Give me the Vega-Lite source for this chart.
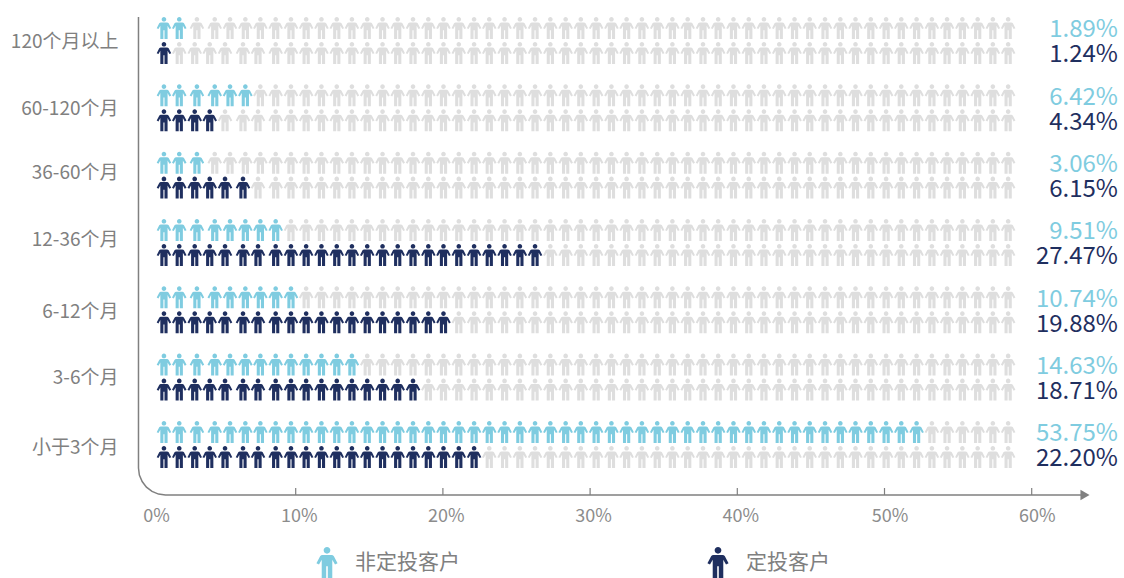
{"$schema":"https://vega.github.io/schema/vega-lite/v6.json","autosize":{"type":"none"},"padding":{"left":138,"top":0,"right":0,"bottom":83},"width":986,"height":495,"background":"white","config":{"view":{"stroke":null},"font":"Noto Sans CJK SC"},
"datasets":{"icons":[
{"c":"120个月以上","s":"非定投客户","p":1.05,"f":1},{"c":"120个月以上","s":"非定投客户","p":2.09,"f":1},{"c":"120个月以上","s":"非定投客户","p":3.29,"f":0},{"c":"120个月以上","s":"非定投客户","p":4.5,"f":0},{"c":"120个月以上","s":"非定投客户","p":5.54,"f":0},{"c":"120个月以上","s":"非定投客户","p":6.58,"f":0},{"c":"120个月以上","s":"非定投客户","p":7.6,"f":0},{"c":"120个月以上","s":"非定投客户","p":8.64,"f":0},{"c":"120个月以上","s":"非定投客户","p":9.68,"f":0},{"c":"120个月以上","s":"非定投客户","p":10.71,"f":0},{"c":"120个月以上","s":"非定投客户","p":11.75,"f":0},{"c":"120个月以上","s":"非定投客户","p":12.79,"f":0},{"c":"120个月以上","s":"非定投客户","p":13.82,"f":0},{"c":"120个月以上","s":"非定投客户","p":14.86,"f":0},{"c":"120个月以上","s":"非定投客户","p":15.9,"f":0},{"c":"120个月以上","s":"非定投客户","p":16.93,"f":0},{"c":"120个月以上","s":"非定投客户","p":17.97,"f":0},{"c":"120个月以上","s":"非定投客户","p":19.01,"f":0},{"c":"120个月以上","s":"非定投客户","p":20.04,"f":0},{"c":"120个月以上","s":"非定投客户","p":21.08,"f":0},{"c":"120个月以上","s":"非定投客户","p":22.12,"f":0},{"c":"120个月以上","s":"非定投客户","p":23.15,"f":0},{"c":"120个月以上","s":"非定投客户","p":24.19,"f":0},{"c":"120个月以上","s":"非定投客户","p":25.23,"f":0},{"c":"120个月以上","s":"非定投客户","p":26.26,"f":0},{"c":"120个月以上","s":"非定投客户","p":27.3,"f":0},{"c":"120个月以上","s":"非定投客户","p":28.34,"f":0},{"c":"120个月以上","s":"非定投客户","p":29.37,"f":0},{"c":"120个月以上","s":"非定投客户","p":30.41,"f":0},{"c":"120个月以上","s":"非定投客户","p":31.45,"f":0},{"c":"120个月以上","s":"非定投客户","p":32.48,"f":0},{"c":"120个月以上","s":"非定投客户","p":33.52,"f":0},{"c":"120个月以上","s":"非定投客户","p":34.56,"f":0},{"c":"120个月以上","s":"非定投客户","p":35.59,"f":0},{"c":"120个月以上","s":"非定投客户","p":36.63,"f":0},{"c":"120个月以上","s":"非定投客户","p":37.67,"f":0},{"c":"120个月以上","s":"非定投客户","p":38.7,"f":0},{"c":"120个月以上","s":"非定投客户","p":39.74,"f":0},{"c":"120个月以上","s":"非定投客户","p":40.78,"f":0},{"c":"120个月以上","s":"非定投客户","p":41.81,"f":0},{"c":"120个月以上","s":"非定投客户","p":42.85,"f":0},{"c":"120个月以上","s":"非定投客户","p":43.89,"f":0},{"c":"120个月以上","s":"非定投客户","p":44.92,"f":0},{"c":"120个月以上","s":"非定投客户","p":45.96,"f":0},{"c":"120个月以上","s":"非定投客户","p":47,"f":0},{"c":"120个月以上","s":"非定投客户","p":48.03,"f":0},{"c":"120个月以上","s":"非定投客户","p":49.07,"f":0},{"c":"120个月以上","s":"非定投客户","p":50.11,"f":0},{"c":"120个月以上","s":"非定投客户","p":51.14,"f":0},{"c":"120个月以上","s":"非定投客户","p":52.18,"f":0},{"c":"120个月以上","s":"非定投客户","p":53.22,"f":0},{"c":"120个月以上","s":"非定投客户","p":54.25,"f":0},{"c":"120个月以上","s":"非定投客户","p":55.29,"f":0},{"c":"120个月以上","s":"非定投客户","p":56.33,"f":0},{"c":"120个月以上","s":"非定投客户","p":57.36,"f":0},{"c":"120个月以上","s":"非定投客户","p":58.4,"f":0},
{"c":"120个月以上","s":"定投客户","p":1.05,"f":1},{"c":"120个月以上","s":"定投客户","p":2.09,"f":0},{"c":"120个月以上","s":"定投客户","p":3.14,"f":0},{"c":"120个月以上","s":"定投客户","p":4.16,"f":0},{"c":"120个月以上","s":"定投客户","p":5.2,"f":0},{"c":"120个月以上","s":"定投客户","p":6.42,"f":0},{"c":"120个月以上","s":"定投客户","p":7.44,"f":0},{"c":"120个月以上","s":"定投客户","p":8.64,"f":0},{"c":"120个月以上","s":"定投客户","p":9.68,"f":0},{"c":"120个月以上","s":"定投客户","p":10.71,"f":0},{"c":"120个月以上","s":"定投客户","p":11.75,"f":0},{"c":"120个月以上","s":"定投客户","p":12.79,"f":0},{"c":"120个月以上","s":"定投客户","p":13.82,"f":0},{"c":"120个月以上","s":"定投客户","p":14.86,"f":0},{"c":"120个月以上","s":"定投客户","p":15.9,"f":0},{"c":"120个月以上","s":"定投客户","p":16.93,"f":0},{"c":"120个月以上","s":"定投客户","p":17.97,"f":0},{"c":"120个月以上","s":"定投客户","p":19.01,"f":0},{"c":"120个月以上","s":"定投客户","p":20.04,"f":0},{"c":"120个月以上","s":"定投客户","p":21.08,"f":0},{"c":"120个月以上","s":"定投客户","p":22.12,"f":0},{"c":"120个月以上","s":"定投客户","p":23.15,"f":0},{"c":"120个月以上","s":"定投客户","p":24.19,"f":0},{"c":"120个月以上","s":"定投客户","p":25.23,"f":0},{"c":"120个月以上","s":"定投客户","p":26.26,"f":0},{"c":"120个月以上","s":"定投客户","p":27.3,"f":0},{"c":"120个月以上","s":"定投客户","p":28.34,"f":0},{"c":"120个月以上","s":"定投客户","p":29.37,"f":0},{"c":"120个月以上","s":"定投客户","p":30.41,"f":0},{"c":"120个月以上","s":"定投客户","p":31.45,"f":0},{"c":"120个月以上","s":"定投客户","p":32.48,"f":0},{"c":"120个月以上","s":"定投客户","p":33.52,"f":0},{"c":"120个月以上","s":"定投客户","p":34.56,"f":0},{"c":"120个月以上","s":"定投客户","p":35.59,"f":0},{"c":"120个月以上","s":"定投客户","p":36.63,"f":0},{"c":"120个月以上","s":"定投客户","p":37.67,"f":0},{"c":"120个月以上","s":"定投客户","p":38.7,"f":0},{"c":"120个月以上","s":"定投客户","p":39.74,"f":0},{"c":"120个月以上","s":"定投客户","p":40.78,"f":0},{"c":"120个月以上","s":"定投客户","p":41.81,"f":0},{"c":"120个月以上","s":"定投客户","p":42.85,"f":0},{"c":"120个月以上","s":"定投客户","p":43.89,"f":0},{"c":"120个月以上","s":"定投客户","p":44.92,"f":0},{"c":"120个月以上","s":"定投客户","p":45.96,"f":0},{"c":"120个月以上","s":"定投客户","p":47,"f":0},{"c":"120个月以上","s":"定投客户","p":48.03,"f":0},{"c":"120个月以上","s":"定投客户","p":49.07,"f":0},{"c":"120个月以上","s":"定投客户","p":50.11,"f":0},{"c":"120个月以上","s":"定投客户","p":51.14,"f":0},{"c":"120个月以上","s":"定投客户","p":52.18,"f":0},{"c":"120个月以上","s":"定投客户","p":53.22,"f":0},{"c":"120个月以上","s":"定投客户","p":54.25,"f":0},{"c":"120个月以上","s":"定投客户","p":55.29,"f":0},{"c":"120个月以上","s":"定投客户","p":56.33,"f":0},{"c":"120个月以上","s":"定投客户","p":57.36,"f":0},{"c":"120个月以上","s":"定投客户","p":58.4,"f":0},
{"c":"60-120个月","s":"非定投客户","p":1.05,"f":1},{"c":"60-120个月","s":"非定投客户","p":2.09,"f":1},{"c":"60-120个月","s":"非定投客户","p":3.29,"f":1},{"c":"60-120个月","s":"非定投客户","p":4.5,"f":1},{"c":"60-120个月","s":"非定投客户","p":5.54,"f":1},{"c":"60-120个月","s":"非定投客户","p":6.58,"f":1},{"c":"60-120个月","s":"非定投客户","p":7.6,"f":0},{"c":"60-120个月","s":"非定投客户","p":8.64,"f":0},{"c":"60-120个月","s":"非定投客户","p":9.68,"f":0},{"c":"60-120个月","s":"非定投客户","p":10.71,"f":0},{"c":"60-120个月","s":"非定投客户","p":11.75,"f":0},{"c":"60-120个月","s":"非定投客户","p":12.79,"f":0},{"c":"60-120个月","s":"非定投客户","p":13.82,"f":0},{"c":"60-120个月","s":"非定投客户","p":14.86,"f":0},{"c":"60-120个月","s":"非定投客户","p":15.9,"f":0},{"c":"60-120个月","s":"非定投客户","p":16.93,"f":0},{"c":"60-120个月","s":"非定投客户","p":17.97,"f":0},{"c":"60-120个月","s":"非定投客户","p":19.01,"f":0},{"c":"60-120个月","s":"非定投客户","p":20.04,"f":0},{"c":"60-120个月","s":"非定投客户","p":21.08,"f":0},{"c":"60-120个月","s":"非定投客户","p":22.12,"f":0},{"c":"60-120个月","s":"非定投客户","p":23.15,"f":0},{"c":"60-120个月","s":"非定投客户","p":24.19,"f":0},{"c":"60-120个月","s":"非定投客户","p":25.23,"f":0},{"c":"60-120个月","s":"非定投客户","p":26.26,"f":0},{"c":"60-120个月","s":"非定投客户","p":27.3,"f":0},{"c":"60-120个月","s":"非定投客户","p":28.34,"f":0},{"c":"60-120个月","s":"非定投客户","p":29.37,"f":0},{"c":"60-120个月","s":"非定投客户","p":30.41,"f":0},{"c":"60-120个月","s":"非定投客户","p":31.45,"f":0},{"c":"60-120个月","s":"非定投客户","p":32.48,"f":0},{"c":"60-120个月","s":"非定投客户","p":33.52,"f":0},{"c":"60-120个月","s":"非定投客户","p":34.56,"f":0},{"c":"60-120个月","s":"非定投客户","p":35.59,"f":0},{"c":"60-120个月","s":"非定投客户","p":36.63,"f":0},{"c":"60-120个月","s":"非定投客户","p":37.67,"f":0},{"c":"60-120个月","s":"非定投客户","p":38.7,"f":0},{"c":"60-120个月","s":"非定投客户","p":39.74,"f":0},{"c":"60-120个月","s":"非定投客户","p":40.78,"f":0},{"c":"60-120个月","s":"非定投客户","p":41.81,"f":0},{"c":"60-120个月","s":"非定投客户","p":42.85,"f":0},{"c":"60-120个月","s":"非定投客户","p":43.89,"f":0},{"c":"60-120个月","s":"非定投客户","p":44.92,"f":0},{"c":"60-120个月","s":"非定投客户","p":45.96,"f":0},{"c":"60-120个月","s":"非定投客户","p":47,"f":0},{"c":"60-120个月","s":"非定投客户","p":48.03,"f":0},{"c":"60-120个月","s":"非定投客户","p":49.07,"f":0},{"c":"60-120个月","s":"非定投客户","p":50.11,"f":0},{"c":"60-120个月","s":"非定投客户","p":51.14,"f":0},{"c":"60-120个月","s":"非定投客户","p":52.18,"f":0},{"c":"60-120个月","s":"非定投客户","p":53.22,"f":0},{"c":"60-120个月","s":"非定投客户","p":54.25,"f":0},{"c":"60-120个月","s":"非定投客户","p":55.29,"f":0},{"c":"60-120个月","s":"非定投客户","p":56.33,"f":0},{"c":"60-120个月","s":"非定投客户","p":57.36,"f":0},{"c":"60-120个月","s":"非定投客户","p":58.4,"f":0},
{"c":"60-120个月","s":"定投客户","p":1.05,"f":1},{"c":"60-120个月","s":"定投客户","p":2.09,"f":1},{"c":"60-120个月","s":"定投客户","p":3.14,"f":1},{"c":"60-120个月","s":"定投客户","p":4.16,"f":1},{"c":"60-120个月","s":"定投客户","p":5.2,"f":0},{"c":"60-120个月","s":"定投客户","p":6.42,"f":0},{"c":"60-120个月","s":"定投客户","p":7.44,"f":0},{"c":"60-120个月","s":"定投客户","p":8.64,"f":0},{"c":"60-120个月","s":"定投客户","p":9.68,"f":0},{"c":"60-120个月","s":"定投客户","p":10.71,"f":0},{"c":"60-120个月","s":"定投客户","p":11.75,"f":0},{"c":"60-120个月","s":"定投客户","p":12.79,"f":0},{"c":"60-120个月","s":"定投客户","p":13.82,"f":0},{"c":"60-120个月","s":"定投客户","p":14.86,"f":0},{"c":"60-120个月","s":"定投客户","p":15.9,"f":0},{"c":"60-120个月","s":"定投客户","p":16.93,"f":0},{"c":"60-120个月","s":"定投客户","p":17.97,"f":0},{"c":"60-120个月","s":"定投客户","p":19.01,"f":0},{"c":"60-120个月","s":"定投客户","p":20.04,"f":0},{"c":"60-120个月","s":"定投客户","p":21.08,"f":0},{"c":"60-120个月","s":"定投客户","p":22.12,"f":0},{"c":"60-120个月","s":"定投客户","p":23.15,"f":0},{"c":"60-120个月","s":"定投客户","p":24.19,"f":0},{"c":"60-120个月","s":"定投客户","p":25.23,"f":0},{"c":"60-120个月","s":"定投客户","p":26.26,"f":0},{"c":"60-120个月","s":"定投客户","p":27.3,"f":0},{"c":"60-120个月","s":"定投客户","p":28.34,"f":0},{"c":"60-120个月","s":"定投客户","p":29.37,"f":0},{"c":"60-120个月","s":"定投客户","p":30.41,"f":0},{"c":"60-120个月","s":"定投客户","p":31.45,"f":0},{"c":"60-120个月","s":"定投客户","p":32.48,"f":0},{"c":"60-120个月","s":"定投客户","p":33.52,"f":0},{"c":"60-120个月","s":"定投客户","p":34.56,"f":0},{"c":"60-120个月","s":"定投客户","p":35.59,"f":0},{"c":"60-120个月","s":"定投客户","p":36.63,"f":0},{"c":"60-120个月","s":"定投客户","p":37.67,"f":0},{"c":"60-120个月","s":"定投客户","p":38.7,"f":0},{"c":"60-120个月","s":"定投客户","p":39.74,"f":0},{"c":"60-120个月","s":"定投客户","p":40.78,"f":0},{"c":"60-120个月","s":"定投客户","p":41.81,"f":0},{"c":"60-120个月","s":"定投客户","p":42.85,"f":0},{"c":"60-120个月","s":"定投客户","p":43.89,"f":0},{"c":"60-120个月","s":"定投客户","p":44.92,"f":0},{"c":"60-120个月","s":"定投客户","p":45.96,"f":0},{"c":"60-120个月","s":"定投客户","p":47,"f":0},{"c":"60-120个月","s":"定投客户","p":48.03,"f":0},{"c":"60-120个月","s":"定投客户","p":49.07,"f":0},{"c":"60-120个月","s":"定投客户","p":50.11,"f":0},{"c":"60-120个月","s":"定投客户","p":51.14,"f":0},{"c":"60-120个月","s":"定投客户","p":52.18,"f":0},{"c":"60-120个月","s":"定投客户","p":53.22,"f":0},{"c":"60-120个月","s":"定投客户","p":54.25,"f":0},{"c":"60-120个月","s":"定投客户","p":55.29,"f":0},{"c":"60-120个月","s":"定投客户","p":56.33,"f":0},{"c":"60-120个月","s":"定投客户","p":57.36,"f":0},{"c":"60-120个月","s":"定投客户","p":58.4,"f":0},
{"c":"36-60个月","s":"非定投客户","p":1.05,"f":1},{"c":"36-60个月","s":"非定投客户","p":2.09,"f":1},{"c":"36-60个月","s":"非定投客户","p":3.29,"f":1},{"c":"36-60个月","s":"非定投客户","p":4.5,"f":0},{"c":"36-60个月","s":"非定投客户","p":5.54,"f":0},{"c":"36-60个月","s":"非定投客户","p":6.58,"f":0},{"c":"36-60个月","s":"非定投客户","p":7.6,"f":0},{"c":"36-60个月","s":"非定投客户","p":8.64,"f":0},{"c":"36-60个月","s":"非定投客户","p":9.68,"f":0},{"c":"36-60个月","s":"非定投客户","p":10.71,"f":0},{"c":"36-60个月","s":"非定投客户","p":11.75,"f":0},{"c":"36-60个月","s":"非定投客户","p":12.79,"f":0},{"c":"36-60个月","s":"非定投客户","p":13.82,"f":0},{"c":"36-60个月","s":"非定投客户","p":14.86,"f":0},{"c":"36-60个月","s":"非定投客户","p":15.9,"f":0},{"c":"36-60个月","s":"非定投客户","p":16.93,"f":0},{"c":"36-60个月","s":"非定投客户","p":17.97,"f":0},{"c":"36-60个月","s":"非定投客户","p":19.01,"f":0},{"c":"36-60个月","s":"非定投客户","p":20.04,"f":0},{"c":"36-60个月","s":"非定投客户","p":21.08,"f":0},{"c":"36-60个月","s":"非定投客户","p":22.12,"f":0},{"c":"36-60个月","s":"非定投客户","p":23.15,"f":0},{"c":"36-60个月","s":"非定投客户","p":24.19,"f":0},{"c":"36-60个月","s":"非定投客户","p":25.23,"f":0},{"c":"36-60个月","s":"非定投客户","p":26.26,"f":0},{"c":"36-60个月","s":"非定投客户","p":27.3,"f":0},{"c":"36-60个月","s":"非定投客户","p":28.34,"f":0},{"c":"36-60个月","s":"非定投客户","p":29.37,"f":0},{"c":"36-60个月","s":"非定投客户","p":30.41,"f":0},{"c":"36-60个月","s":"非定投客户","p":31.45,"f":0},{"c":"36-60个月","s":"非定投客户","p":32.48,"f":0},{"c":"36-60个月","s":"非定投客户","p":33.52,"f":0},{"c":"36-60个月","s":"非定投客户","p":34.56,"f":0},{"c":"36-60个月","s":"非定投客户","p":35.59,"f":0},{"c":"36-60个月","s":"非定投客户","p":36.63,"f":0},{"c":"36-60个月","s":"非定投客户","p":37.67,"f":0},{"c":"36-60个月","s":"非定投客户","p":38.7,"f":0},{"c":"36-60个月","s":"非定投客户","p":39.74,"f":0},{"c":"36-60个月","s":"非定投客户","p":40.78,"f":0},{"c":"36-60个月","s":"非定投客户","p":41.81,"f":0},{"c":"36-60个月","s":"非定投客户","p":42.85,"f":0},{"c":"36-60个月","s":"非定投客户","p":43.89,"f":0},{"c":"36-60个月","s":"非定投客户","p":44.92,"f":0},{"c":"36-60个月","s":"非定投客户","p":45.96,"f":0},{"c":"36-60个月","s":"非定投客户","p":47,"f":0},{"c":"36-60个月","s":"非定投客户","p":48.03,"f":0},{"c":"36-60个月","s":"非定投客户","p":49.07,"f":0},{"c":"36-60个月","s":"非定投客户","p":50.11,"f":0},{"c":"36-60个月","s":"非定投客户","p":51.14,"f":0},{"c":"36-60个月","s":"非定投客户","p":52.18,"f":0},{"c":"36-60个月","s":"非定投客户","p":53.22,"f":0},{"c":"36-60个月","s":"非定投客户","p":54.25,"f":0},{"c":"36-60个月","s":"非定投客户","p":55.29,"f":0},{"c":"36-60个月","s":"非定投客户","p":56.33,"f":0},{"c":"36-60个月","s":"非定投客户","p":57.36,"f":0},{"c":"36-60个月","s":"非定投客户","p":58.4,"f":0},
{"c":"36-60个月","s":"定投客户","p":1.05,"f":1},{"c":"36-60个月","s":"定投客户","p":2.09,"f":1},{"c":"36-60个月","s":"定投客户","p":3.14,"f":1},{"c":"36-60个月","s":"定投客户","p":4.16,"f":1},{"c":"36-60个月","s":"定投客户","p":5.2,"f":1},{"c":"36-60个月","s":"定投客户","p":6.42,"f":1},{"c":"36-60个月","s":"定投客户","p":7.44,"f":0},{"c":"36-60个月","s":"定投客户","p":8.64,"f":0},{"c":"36-60个月","s":"定投客户","p":9.68,"f":0},{"c":"36-60个月","s":"定投客户","p":10.71,"f":0},{"c":"36-60个月","s":"定投客户","p":11.75,"f":0},{"c":"36-60个月","s":"定投客户","p":12.79,"f":0},{"c":"36-60个月","s":"定投客户","p":13.82,"f":0},{"c":"36-60个月","s":"定投客户","p":14.86,"f":0},{"c":"36-60个月","s":"定投客户","p":15.9,"f":0},{"c":"36-60个月","s":"定投客户","p":16.93,"f":0},{"c":"36-60个月","s":"定投客户","p":17.97,"f":0},{"c":"36-60个月","s":"定投客户","p":19.01,"f":0},{"c":"36-60个月","s":"定投客户","p":20.04,"f":0},{"c":"36-60个月","s":"定投客户","p":21.08,"f":0},{"c":"36-60个月","s":"定投客户","p":22.12,"f":0},{"c":"36-60个月","s":"定投客户","p":23.15,"f":0},{"c":"36-60个月","s":"定投客户","p":24.19,"f":0},{"c":"36-60个月","s":"定投客户","p":25.23,"f":0},{"c":"36-60个月","s":"定投客户","p":26.26,"f":0},{"c":"36-60个月","s":"定投客户","p":27.3,"f":0},{"c":"36-60个月","s":"定投客户","p":28.34,"f":0},{"c":"36-60个月","s":"定投客户","p":29.37,"f":0},{"c":"36-60个月","s":"定投客户","p":30.41,"f":0},{"c":"36-60个月","s":"定投客户","p":31.45,"f":0},{"c":"36-60个月","s":"定投客户","p":32.48,"f":0},{"c":"36-60个月","s":"定投客户","p":33.52,"f":0},{"c":"36-60个月","s":"定投客户","p":34.56,"f":0},{"c":"36-60个月","s":"定投客户","p":35.59,"f":0},{"c":"36-60个月","s":"定投客户","p":36.63,"f":0},{"c":"36-60个月","s":"定投客户","p":37.67,"f":0},{"c":"36-60个月","s":"定投客户","p":38.7,"f":0},{"c":"36-60个月","s":"定投客户","p":39.74,"f":0},{"c":"36-60个月","s":"定投客户","p":40.78,"f":0},{"c":"36-60个月","s":"定投客户","p":41.81,"f":0},{"c":"36-60个月","s":"定投客户","p":42.85,"f":0},{"c":"36-60个月","s":"定投客户","p":43.89,"f":0},{"c":"36-60个月","s":"定投客户","p":44.92,"f":0},{"c":"36-60个月","s":"定投客户","p":45.96,"f":0},{"c":"36-60个月","s":"定投客户","p":47,"f":0},{"c":"36-60个月","s":"定投客户","p":48.03,"f":0},{"c":"36-60个月","s":"定投客户","p":49.07,"f":0},{"c":"36-60个月","s":"定投客户","p":50.11,"f":0},{"c":"36-60个月","s":"定投客户","p":51.14,"f":0},{"c":"36-60个月","s":"定投客户","p":52.18,"f":0},{"c":"36-60个月","s":"定投客户","p":53.22,"f":0},{"c":"36-60个月","s":"定投客户","p":54.25,"f":0},{"c":"36-60个月","s":"定投客户","p":55.29,"f":0},{"c":"36-60个月","s":"定投客户","p":56.33,"f":0},{"c":"36-60个月","s":"定投客户","p":57.36,"f":0},{"c":"36-60个月","s":"定投客户","p":58.4,"f":0},
{"c":"12-36个月","s":"非定投客户","p":1.05,"f":1},{"c":"12-36个月","s":"非定投客户","p":2.09,"f":1},{"c":"12-36个月","s":"非定投客户","p":3.29,"f":1},{"c":"12-36个月","s":"非定投客户","p":4.5,"f":1},{"c":"12-36个月","s":"非定投客户","p":5.54,"f":1},{"c":"12-36个月","s":"非定投客户","p":6.58,"f":1},{"c":"12-36个月","s":"非定投客户","p":7.6,"f":1},{"c":"12-36个月","s":"非定投客户","p":8.64,"f":1},{"c":"12-36个月","s":"非定投客户","p":9.68,"f":0},{"c":"12-36个月","s":"非定投客户","p":10.71,"f":0},{"c":"12-36个月","s":"非定投客户","p":11.75,"f":0},{"c":"12-36个月","s":"非定投客户","p":12.79,"f":0},{"c":"12-36个月","s":"非定投客户","p":13.82,"f":0},{"c":"12-36个月","s":"非定投客户","p":14.86,"f":0},{"c":"12-36个月","s":"非定投客户","p":15.9,"f":0},{"c":"12-36个月","s":"非定投客户","p":16.93,"f":0},{"c":"12-36个月","s":"非定投客户","p":17.97,"f":0},{"c":"12-36个月","s":"非定投客户","p":19.01,"f":0},{"c":"12-36个月","s":"非定投客户","p":20.04,"f":0},{"c":"12-36个月","s":"非定投客户","p":21.08,"f":0},{"c":"12-36个月","s":"非定投客户","p":22.12,"f":0},{"c":"12-36个月","s":"非定投客户","p":23.15,"f":0},{"c":"12-36个月","s":"非定投客户","p":24.19,"f":0},{"c":"12-36个月","s":"非定投客户","p":25.23,"f":0},{"c":"12-36个月","s":"非定投客户","p":26.26,"f":0},{"c":"12-36个月","s":"非定投客户","p":27.3,"f":0},{"c":"12-36个月","s":"非定投客户","p":28.34,"f":0},{"c":"12-36个月","s":"非定投客户","p":29.37,"f":0},{"c":"12-36个月","s":"非定投客户","p":30.41,"f":0},{"c":"12-36个月","s":"非定投客户","p":31.45,"f":0},{"c":"12-36个月","s":"非定投客户","p":32.48,"f":0},{"c":"12-36个月","s":"非定投客户","p":33.52,"f":0},{"c":"12-36个月","s":"非定投客户","p":34.56,"f":0},{"c":"12-36个月","s":"非定投客户","p":35.59,"f":0},{"c":"12-36个月","s":"非定投客户","p":36.63,"f":0},{"c":"12-36个月","s":"非定投客户","p":37.67,"f":0},{"c":"12-36个月","s":"非定投客户","p":38.7,"f":0},{"c":"12-36个月","s":"非定投客户","p":39.74,"f":0},{"c":"12-36个月","s":"非定投客户","p":40.78,"f":0},{"c":"12-36个月","s":"非定投客户","p":41.81,"f":0},{"c":"12-36个月","s":"非定投客户","p":42.85,"f":0},{"c":"12-36个月","s":"非定投客户","p":43.89,"f":0},{"c":"12-36个月","s":"非定投客户","p":44.92,"f":0},{"c":"12-36个月","s":"非定投客户","p":45.96,"f":0},{"c":"12-36个月","s":"非定投客户","p":47,"f":0},{"c":"12-36个月","s":"非定投客户","p":48.03,"f":0},{"c":"12-36个月","s":"非定投客户","p":49.07,"f":0},{"c":"12-36个月","s":"非定投客户","p":50.11,"f":0},{"c":"12-36个月","s":"非定投客户","p":51.14,"f":0},{"c":"12-36个月","s":"非定投客户","p":52.18,"f":0},{"c":"12-36个月","s":"非定投客户","p":53.22,"f":0},{"c":"12-36个月","s":"非定投客户","p":54.25,"f":0},{"c":"12-36个月","s":"非定投客户","p":55.29,"f":0},{"c":"12-36个月","s":"非定投客户","p":56.33,"f":0},{"c":"12-36个月","s":"非定投客户","p":57.36,"f":0},{"c":"12-36个月","s":"非定投客户","p":58.4,"f":0},
{"c":"12-36个月","s":"定投客户","p":1.05,"f":1},{"c":"12-36个月","s":"定投客户","p":2.09,"f":1},{"c":"12-36个月","s":"定投客户","p":3.14,"f":1},{"c":"12-36个月","s":"定投客户","p":4.16,"f":1},{"c":"12-36个月","s":"定投客户","p":5.2,"f":1},{"c":"12-36个月","s":"定投客户","p":6.42,"f":1},{"c":"12-36个月","s":"定投客户","p":7.44,"f":1},{"c":"12-36个月","s":"定投客户","p":8.64,"f":1},{"c":"12-36个月","s":"定投客户","p":9.68,"f":1},{"c":"12-36个月","s":"定投客户","p":10.71,"f":1},{"c":"12-36个月","s":"定投客户","p":11.75,"f":1},{"c":"12-36个月","s":"定投客户","p":12.79,"f":1},{"c":"12-36个月","s":"定投客户","p":13.82,"f":1},{"c":"12-36个月","s":"定投客户","p":14.86,"f":1},{"c":"12-36个月","s":"定投客户","p":15.9,"f":1},{"c":"12-36个月","s":"定投客户","p":16.93,"f":1},{"c":"12-36个月","s":"定投客户","p":17.97,"f":1},{"c":"12-36个月","s":"定投客户","p":19.01,"f":1},{"c":"12-36个月","s":"定投客户","p":20.04,"f":1},{"c":"12-36个月","s":"定投客户","p":21.08,"f":1},{"c":"12-36个月","s":"定投客户","p":22.12,"f":1},{"c":"12-36个月","s":"定投客户","p":23.15,"f":1},{"c":"12-36个月","s":"定投客户","p":24.19,"f":1},{"c":"12-36个月","s":"定投客户","p":25.23,"f":1},{"c":"12-36个月","s":"定投客户","p":26.26,"f":1},{"c":"12-36个月","s":"定投客户","p":27.3,"f":0},{"c":"12-36个月","s":"定投客户","p":28.34,"f":0},{"c":"12-36个月","s":"定投客户","p":29.37,"f":0},{"c":"12-36个月","s":"定投客户","p":30.41,"f":0},{"c":"12-36个月","s":"定投客户","p":31.45,"f":0},{"c":"12-36个月","s":"定投客户","p":32.48,"f":0},{"c":"12-36个月","s":"定投客户","p":33.52,"f":0},{"c":"12-36个月","s":"定投客户","p":34.56,"f":0},{"c":"12-36个月","s":"定投客户","p":35.59,"f":0},{"c":"12-36个月","s":"定投客户","p":36.63,"f":0},{"c":"12-36个月","s":"定投客户","p":37.67,"f":0},{"c":"12-36个月","s":"定投客户","p":38.7,"f":0},{"c":"12-36个月","s":"定投客户","p":39.74,"f":0},{"c":"12-36个月","s":"定投客户","p":40.78,"f":0},{"c":"12-36个月","s":"定投客户","p":41.81,"f":0},{"c":"12-36个月","s":"定投客户","p":42.85,"f":0},{"c":"12-36个月","s":"定投客户","p":43.89,"f":0},{"c":"12-36个月","s":"定投客户","p":44.92,"f":0},{"c":"12-36个月","s":"定投客户","p":45.96,"f":0},{"c":"12-36个月","s":"定投客户","p":47,"f":0},{"c":"12-36个月","s":"定投客户","p":48.03,"f":0},{"c":"12-36个月","s":"定投客户","p":49.07,"f":0},{"c":"12-36个月","s":"定投客户","p":50.11,"f":0},{"c":"12-36个月","s":"定投客户","p":51.14,"f":0},{"c":"12-36个月","s":"定投客户","p":52.18,"f":0},{"c":"12-36个月","s":"定投客户","p":53.22,"f":0},{"c":"12-36个月","s":"定投客户","p":54.25,"f":0},{"c":"12-36个月","s":"定投客户","p":55.29,"f":0},{"c":"12-36个月","s":"定投客户","p":56.33,"f":0},{"c":"12-36个月","s":"定投客户","p":57.36,"f":0},{"c":"12-36个月","s":"定投客户","p":58.4,"f":0},
{"c":"6-12个月","s":"非定投客户","p":1.05,"f":1},{"c":"6-12个月","s":"非定投客户","p":2.09,"f":1},{"c":"6-12个月","s":"非定投客户","p":3.29,"f":1},{"c":"6-12个月","s":"非定投客户","p":4.5,"f":1},{"c":"6-12个月","s":"非定投客户","p":5.54,"f":1},{"c":"6-12个月","s":"非定投客户","p":6.58,"f":1},{"c":"6-12个月","s":"非定投客户","p":7.6,"f":1},{"c":"6-12个月","s":"非定投客户","p":8.64,"f":1},{"c":"6-12个月","s":"非定投客户","p":9.68,"f":1},{"c":"6-12个月","s":"非定投客户","p":10.71,"f":0},{"c":"6-12个月","s":"非定投客户","p":11.75,"f":0},{"c":"6-12个月","s":"非定投客户","p":12.79,"f":0},{"c":"6-12个月","s":"非定投客户","p":13.82,"f":0},{"c":"6-12个月","s":"非定投客户","p":14.86,"f":0},{"c":"6-12个月","s":"非定投客户","p":15.9,"f":0},{"c":"6-12个月","s":"非定投客户","p":16.93,"f":0},{"c":"6-12个月","s":"非定投客户","p":17.97,"f":0},{"c":"6-12个月","s":"非定投客户","p":19.01,"f":0},{"c":"6-12个月","s":"非定投客户","p":20.04,"f":0},{"c":"6-12个月","s":"非定投客户","p":21.08,"f":0},{"c":"6-12个月","s":"非定投客户","p":22.12,"f":0},{"c":"6-12个月","s":"非定投客户","p":23.15,"f":0},{"c":"6-12个月","s":"非定投客户","p":24.19,"f":0},{"c":"6-12个月","s":"非定投客户","p":25.23,"f":0},{"c":"6-12个月","s":"非定投客户","p":26.26,"f":0},{"c":"6-12个月","s":"非定投客户","p":27.3,"f":0},{"c":"6-12个月","s":"非定投客户","p":28.34,"f":0},{"c":"6-12个月","s":"非定投客户","p":29.37,"f":0},{"c":"6-12个月","s":"非定投客户","p":30.41,"f":0},{"c":"6-12个月","s":"非定投客户","p":31.45,"f":0},{"c":"6-12个月","s":"非定投客户","p":32.48,"f":0},{"c":"6-12个月","s":"非定投客户","p":33.52,"f":0},{"c":"6-12个月","s":"非定投客户","p":34.56,"f":0},{"c":"6-12个月","s":"非定投客户","p":35.59,"f":0},{"c":"6-12个月","s":"非定投客户","p":36.63,"f":0},{"c":"6-12个月","s":"非定投客户","p":37.67,"f":0},{"c":"6-12个月","s":"非定投客户","p":38.7,"f":0},{"c":"6-12个月","s":"非定投客户","p":39.74,"f":0},{"c":"6-12个月","s":"非定投客户","p":40.78,"f":0},{"c":"6-12个月","s":"非定投客户","p":41.81,"f":0},{"c":"6-12个月","s":"非定投客户","p":42.85,"f":0},{"c":"6-12个月","s":"非定投客户","p":43.89,"f":0},{"c":"6-12个月","s":"非定投客户","p":44.92,"f":0},{"c":"6-12个月","s":"非定投客户","p":45.96,"f":0},{"c":"6-12个月","s":"非定投客户","p":47,"f":0},{"c":"6-12个月","s":"非定投客户","p":48.03,"f":0},{"c":"6-12个月","s":"非定投客户","p":49.07,"f":0},{"c":"6-12个月","s":"非定投客户","p":50.11,"f":0},{"c":"6-12个月","s":"非定投客户","p":51.14,"f":0},{"c":"6-12个月","s":"非定投客户","p":52.18,"f":0},{"c":"6-12个月","s":"非定投客户","p":53.22,"f":0},{"c":"6-12个月","s":"非定投客户","p":54.25,"f":0},{"c":"6-12个月","s":"非定投客户","p":55.29,"f":0},{"c":"6-12个月","s":"非定投客户","p":56.33,"f":0},{"c":"6-12个月","s":"非定投客户","p":57.36,"f":0},{"c":"6-12个月","s":"非定投客户","p":58.4,"f":0},
{"c":"6-12个月","s":"定投客户","p":1.05,"f":1},{"c":"6-12个月","s":"定投客户","p":2.09,"f":1},{"c":"6-12个月","s":"定投客户","p":3.14,"f":1},{"c":"6-12个月","s":"定投客户","p":4.16,"f":1},{"c":"6-12个月","s":"定投客户","p":5.2,"f":1},{"c":"6-12个月","s":"定投客户","p":6.42,"f":1},{"c":"6-12个月","s":"定投客户","p":7.44,"f":1},{"c":"6-12个月","s":"定投客户","p":8.64,"f":1},{"c":"6-12个月","s":"定投客户","p":9.68,"f":1},{"c":"6-12个月","s":"定投客户","p":10.71,"f":1},{"c":"6-12个月","s":"定投客户","p":11.75,"f":1},{"c":"6-12个月","s":"定投客户","p":12.79,"f":1},{"c":"6-12个月","s":"定投客户","p":13.82,"f":1},{"c":"6-12个月","s":"定投客户","p":14.86,"f":1},{"c":"6-12个月","s":"定投客户","p":15.9,"f":1},{"c":"6-12个月","s":"定投客户","p":16.93,"f":1},{"c":"6-12个月","s":"定投客户","p":17.97,"f":1},{"c":"6-12个月","s":"定投客户","p":19.01,"f":1},{"c":"6-12个月","s":"定投客户","p":20.04,"f":1},{"c":"6-12个月","s":"定投客户","p":21.08,"f":0},{"c":"6-12个月","s":"定投客户","p":22.12,"f":0},{"c":"6-12个月","s":"定投客户","p":23.15,"f":0},{"c":"6-12个月","s":"定投客户","p":24.19,"f":0},{"c":"6-12个月","s":"定投客户","p":25.23,"f":0},{"c":"6-12个月","s":"定投客户","p":26.26,"f":0},{"c":"6-12个月","s":"定投客户","p":27.3,"f":0},{"c":"6-12个月","s":"定投客户","p":28.34,"f":0},{"c":"6-12个月","s":"定投客户","p":29.37,"f":0},{"c":"6-12个月","s":"定投客户","p":30.41,"f":0},{"c":"6-12个月","s":"定投客户","p":31.45,"f":0},{"c":"6-12个月","s":"定投客户","p":32.48,"f":0},{"c":"6-12个月","s":"定投客户","p":33.52,"f":0},{"c":"6-12个月","s":"定投客户","p":34.56,"f":0},{"c":"6-12个月","s":"定投客户","p":35.59,"f":0},{"c":"6-12个月","s":"定投客户","p":36.63,"f":0},{"c":"6-12个月","s":"定投客户","p":37.67,"f":0},{"c":"6-12个月","s":"定投客户","p":38.7,"f":0},{"c":"6-12个月","s":"定投客户","p":39.74,"f":0},{"c":"6-12个月","s":"定投客户","p":40.78,"f":0},{"c":"6-12个月","s":"定投客户","p":41.81,"f":0},{"c":"6-12个月","s":"定投客户","p":42.85,"f":0},{"c":"6-12个月","s":"定投客户","p":43.89,"f":0},{"c":"6-12个月","s":"定投客户","p":44.92,"f":0},{"c":"6-12个月","s":"定投客户","p":45.96,"f":0},{"c":"6-12个月","s":"定投客户","p":47,"f":0},{"c":"6-12个月","s":"定投客户","p":48.03,"f":0},{"c":"6-12个月","s":"定投客户","p":49.07,"f":0},{"c":"6-12个月","s":"定投客户","p":50.11,"f":0},{"c":"6-12个月","s":"定投客户","p":51.14,"f":0},{"c":"6-12个月","s":"定投客户","p":52.18,"f":0},{"c":"6-12个月","s":"定投客户","p":53.22,"f":0},{"c":"6-12个月","s":"定投客户","p":54.25,"f":0},{"c":"6-12个月","s":"定投客户","p":55.29,"f":0},{"c":"6-12个月","s":"定投客户","p":56.33,"f":0},{"c":"6-12个月","s":"定投客户","p":57.36,"f":0},{"c":"6-12个月","s":"定投客户","p":58.4,"f":0},
{"c":"3-6个月","s":"非定投客户","p":1.05,"f":1},{"c":"3-6个月","s":"非定投客户","p":2.09,"f":1},{"c":"3-6个月","s":"非定投客户","p":3.29,"f":1},{"c":"3-6个月","s":"非定投客户","p":4.5,"f":1},{"c":"3-6个月","s":"非定投客户","p":5.54,"f":1},{"c":"3-6个月","s":"非定投客户","p":6.58,"f":1},{"c":"3-6个月","s":"非定投客户","p":7.6,"f":1},{"c":"3-6个月","s":"非定投客户","p":8.64,"f":1},{"c":"3-6个月","s":"非定投客户","p":9.68,"f":1},{"c":"3-6个月","s":"非定投客户","p":10.71,"f":1},{"c":"3-6个月","s":"非定投客户","p":11.75,"f":1},{"c":"3-6个月","s":"非定投客户","p":12.79,"f":1},{"c":"3-6个月","s":"非定投客户","p":13.82,"f":1},{"c":"3-6个月","s":"非定投客户","p":14.86,"f":0},{"c":"3-6个月","s":"非定投客户","p":15.9,"f":0},{"c":"3-6个月","s":"非定投客户","p":16.93,"f":0},{"c":"3-6个月","s":"非定投客户","p":17.97,"f":0},{"c":"3-6个月","s":"非定投客户","p":19.01,"f":0},{"c":"3-6个月","s":"非定投客户","p":20.04,"f":0},{"c":"3-6个月","s":"非定投客户","p":21.08,"f":0},{"c":"3-6个月","s":"非定投客户","p":22.12,"f":0},{"c":"3-6个月","s":"非定投客户","p":23.15,"f":0},{"c":"3-6个月","s":"非定投客户","p":24.19,"f":0},{"c":"3-6个月","s":"非定投客户","p":25.23,"f":0},{"c":"3-6个月","s":"非定投客户","p":26.26,"f":0},{"c":"3-6个月","s":"非定投客户","p":27.3,"f":0},{"c":"3-6个月","s":"非定投客户","p":28.34,"f":0},{"c":"3-6个月","s":"非定投客户","p":29.37,"f":0},{"c":"3-6个月","s":"非定投客户","p":30.41,"f":0},{"c":"3-6个月","s":"非定投客户","p":31.45,"f":0},{"c":"3-6个月","s":"非定投客户","p":32.48,"f":0},{"c":"3-6个月","s":"非定投客户","p":33.52,"f":0},{"c":"3-6个月","s":"非定投客户","p":34.56,"f":0},{"c":"3-6个月","s":"非定投客户","p":35.59,"f":0},{"c":"3-6个月","s":"非定投客户","p":36.63,"f":0},{"c":"3-6个月","s":"非定投客户","p":37.67,"f":0},{"c":"3-6个月","s":"非定投客户","p":38.7,"f":0},{"c":"3-6个月","s":"非定投客户","p":39.74,"f":0},{"c":"3-6个月","s":"非定投客户","p":40.78,"f":0},{"c":"3-6个月","s":"非定投客户","p":41.81,"f":0},{"c":"3-6个月","s":"非定投客户","p":42.85,"f":0},{"c":"3-6个月","s":"非定投客户","p":43.89,"f":0},{"c":"3-6个月","s":"非定投客户","p":44.92,"f":0},{"c":"3-6个月","s":"非定投客户","p":45.96,"f":0},{"c":"3-6个月","s":"非定投客户","p":47,"f":0},{"c":"3-6个月","s":"非定投客户","p":48.03,"f":0},{"c":"3-6个月","s":"非定投客户","p":49.07,"f":0},{"c":"3-6个月","s":"非定投客户","p":50.11,"f":0},{"c":"3-6个月","s":"非定投客户","p":51.14,"f":0},{"c":"3-6个月","s":"非定投客户","p":52.18,"f":0},{"c":"3-6个月","s":"非定投客户","p":53.22,"f":0},{"c":"3-6个月","s":"非定投客户","p":54.25,"f":0},{"c":"3-6个月","s":"非定投客户","p":55.29,"f":0},{"c":"3-6个月","s":"非定投客户","p":56.33,"f":0},{"c":"3-6个月","s":"非定投客户","p":57.36,"f":0},{"c":"3-6个月","s":"非定投客户","p":58.4,"f":0},
{"c":"3-6个月","s":"定投客户","p":1.05,"f":1},{"c":"3-6个月","s":"定投客户","p":2.09,"f":1},{"c":"3-6个月","s":"定投客户","p":3.14,"f":1},{"c":"3-6个月","s":"定投客户","p":4.16,"f":1},{"c":"3-6个月","s":"定投客户","p":5.2,"f":1},{"c":"3-6个月","s":"定投客户","p":6.42,"f":1},{"c":"3-6个月","s":"定投客户","p":7.44,"f":1},{"c":"3-6个月","s":"定投客户","p":8.64,"f":1},{"c":"3-6个月","s":"定投客户","p":9.68,"f":1},{"c":"3-6个月","s":"定投客户","p":10.71,"f":1},{"c":"3-6个月","s":"定投客户","p":11.75,"f":1},{"c":"3-6个月","s":"定投客户","p":12.79,"f":1},{"c":"3-6个月","s":"定投客户","p":13.82,"f":1},{"c":"3-6个月","s":"定投客户","p":14.86,"f":1},{"c":"3-6个月","s":"定投客户","p":15.9,"f":1},{"c":"3-6个月","s":"定投客户","p":16.93,"f":1},{"c":"3-6个月","s":"定投客户","p":17.97,"f":1},{"c":"3-6个月","s":"定投客户","p":19.01,"f":0},{"c":"3-6个月","s":"定投客户","p":20.04,"f":0},{"c":"3-6个月","s":"定投客户","p":21.08,"f":0},{"c":"3-6个月","s":"定投客户","p":22.12,"f":0},{"c":"3-6个月","s":"定投客户","p":23.15,"f":0},{"c":"3-6个月","s":"定投客户","p":24.19,"f":0},{"c":"3-6个月","s":"定投客户","p":25.23,"f":0},{"c":"3-6个月","s":"定投客户","p":26.26,"f":0},{"c":"3-6个月","s":"定投客户","p":27.3,"f":0},{"c":"3-6个月","s":"定投客户","p":28.34,"f":0},{"c":"3-6个月","s":"定投客户","p":29.37,"f":0},{"c":"3-6个月","s":"定投客户","p":30.41,"f":0},{"c":"3-6个月","s":"定投客户","p":31.45,"f":0},{"c":"3-6个月","s":"定投客户","p":32.48,"f":0},{"c":"3-6个月","s":"定投客户","p":33.52,"f":0},{"c":"3-6个月","s":"定投客户","p":34.56,"f":0},{"c":"3-6个月","s":"定投客户","p":35.59,"f":0},{"c":"3-6个月","s":"定投客户","p":36.63,"f":0},{"c":"3-6个月","s":"定投客户","p":37.67,"f":0},{"c":"3-6个月","s":"定投客户","p":38.7,"f":0},{"c":"3-6个月","s":"定投客户","p":39.74,"f":0},{"c":"3-6个月","s":"定投客户","p":40.78,"f":0},{"c":"3-6个月","s":"定投客户","p":41.81,"f":0},{"c":"3-6个月","s":"定投客户","p":42.85,"f":0},{"c":"3-6个月","s":"定投客户","p":43.89,"f":0},{"c":"3-6个月","s":"定投客户","p":44.92,"f":0},{"c":"3-6个月","s":"定投客户","p":45.96,"f":0},{"c":"3-6个月","s":"定投客户","p":47,"f":0},{"c":"3-6个月","s":"定投客户","p":48.03,"f":0},{"c":"3-6个月","s":"定投客户","p":49.07,"f":0},{"c":"3-6个月","s":"定投客户","p":50.11,"f":0},{"c":"3-6个月","s":"定投客户","p":51.14,"f":0},{"c":"3-6个月","s":"定投客户","p":52.18,"f":0},{"c":"3-6个月","s":"定投客户","p":53.22,"f":0},{"c":"3-6个月","s":"定投客户","p":54.25,"f":0},{"c":"3-6个月","s":"定投客户","p":55.29,"f":0},{"c":"3-6个月","s":"定投客户","p":56.33,"f":0},{"c":"3-6个月","s":"定投客户","p":57.36,"f":0},{"c":"3-6个月","s":"定投客户","p":58.4,"f":0},
{"c":"小于3个月","s":"非定投客户","p":1.05,"f":1},{"c":"小于3个月","s":"非定投客户","p":2.09,"f":1},{"c":"小于3个月","s":"非定投客户","p":3.29,"f":1},{"c":"小于3个月","s":"非定投客户","p":4.5,"f":1},{"c":"小于3个月","s":"非定投客户","p":5.54,"f":1},{"c":"小于3个月","s":"非定投客户","p":6.58,"f":1},{"c":"小于3个月","s":"非定投客户","p":7.6,"f":1},{"c":"小于3个月","s":"非定投客户","p":8.64,"f":1},{"c":"小于3个月","s":"非定投客户","p":9.68,"f":1},{"c":"小于3个月","s":"非定投客户","p":10.71,"f":1},{"c":"小于3个月","s":"非定投客户","p":11.75,"f":1},{"c":"小于3个月","s":"非定投客户","p":12.79,"f":1},{"c":"小于3个月","s":"非定投客户","p":13.82,"f":1},{"c":"小于3个月","s":"非定投客户","p":14.86,"f":1},{"c":"小于3个月","s":"非定投客户","p":15.9,"f":1},{"c":"小于3个月","s":"非定投客户","p":16.93,"f":1},{"c":"小于3个月","s":"非定投客户","p":17.97,"f":1},{"c":"小于3个月","s":"非定投客户","p":19.01,"f":1},{"c":"小于3个月","s":"非定投客户","p":20.04,"f":1},{"c":"小于3个月","s":"非定投客户","p":21.08,"f":1},{"c":"小于3个月","s":"非定投客户","p":22.12,"f":1},{"c":"小于3个月","s":"非定投客户","p":23.15,"f":1},{"c":"小于3个月","s":"非定投客户","p":24.19,"f":1},{"c":"小于3个月","s":"非定投客户","p":25.23,"f":1},{"c":"小于3个月","s":"非定投客户","p":26.26,"f":1},{"c":"小于3个月","s":"非定投客户","p":27.3,"f":1},{"c":"小于3个月","s":"非定投客户","p":28.34,"f":1},{"c":"小于3个月","s":"非定投客户","p":29.37,"f":1},{"c":"小于3个月","s":"非定投客户","p":30.41,"f":1},{"c":"小于3个月","s":"非定投客户","p":31.45,"f":1},{"c":"小于3个月","s":"非定投客户","p":32.48,"f":1},{"c":"小于3个月","s":"非定投客户","p":33.52,"f":1},{"c":"小于3个月","s":"非定投客户","p":34.56,"f":1},{"c":"小于3个月","s":"非定投客户","p":35.59,"f":1},{"c":"小于3个月","s":"非定投客户","p":36.63,"f":1},{"c":"小于3个月","s":"非定投客户","p":37.67,"f":1},{"c":"小于3个月","s":"非定投客户","p":38.7,"f":1},{"c":"小于3个月","s":"非定投客户","p":39.74,"f":1},{"c":"小于3个月","s":"非定投客户","p":40.78,"f":1},{"c":"小于3个月","s":"非定投客户","p":41.81,"f":1},{"c":"小于3个月","s":"非定投客户","p":42.85,"f":1},{"c":"小于3个月","s":"非定投客户","p":43.89,"f":1},{"c":"小于3个月","s":"非定投客户","p":44.92,"f":1},{"c":"小于3个月","s":"非定投客户","p":45.96,"f":1},{"c":"小于3个月","s":"非定投客户","p":47,"f":1},{"c":"小于3个月","s":"非定投客户","p":48.03,"f":1},{"c":"小于3个月","s":"非定投客户","p":49.07,"f":1},{"c":"小于3个月","s":"非定投客户","p":50.11,"f":1},{"c":"小于3个月","s":"非定投客户","p":51.14,"f":1},{"c":"小于3个月","s":"非定投客户","p":52.18,"f":1},{"c":"小于3个月","s":"非定投客户","p":53.22,"f":0},{"c":"小于3个月","s":"非定投客户","p":54.25,"f":0},{"c":"小于3个月","s":"非定投客户","p":55.29,"f":0},{"c":"小于3个月","s":"非定投客户","p":56.33,"f":0},{"c":"小于3个月","s":"非定投客户","p":57.36,"f":0},{"c":"小于3个月","s":"非定投客户","p":58.4,"f":0},
{"c":"小于3个月","s":"定投客户","p":1.05,"f":1},{"c":"小于3个月","s":"定投客户","p":2.09,"f":1},{"c":"小于3个月","s":"定投客户","p":3.14,"f":1},{"c":"小于3个月","s":"定投客户","p":4.16,"f":1},{"c":"小于3个月","s":"定投客户","p":5.2,"f":1},{"c":"小于3个月","s":"定投客户","p":6.42,"f":1},{"c":"小于3个月","s":"定投客户","p":7.44,"f":1},{"c":"小于3个月","s":"定投客户","p":8.64,"f":1},{"c":"小于3个月","s":"定投客户","p":9.68,"f":1},{"c":"小于3个月","s":"定投客户","p":10.71,"f":1},{"c":"小于3个月","s":"定投客户","p":11.75,"f":1},{"c":"小于3个月","s":"定投客户","p":12.79,"f":1},{"c":"小于3个月","s":"定投客户","p":13.82,"f":1},{"c":"小于3个月","s":"定投客户","p":14.86,"f":1},{"c":"小于3个月","s":"定投客户","p":15.9,"f":1},{"c":"小于3个月","s":"定投客户","p":16.93,"f":1},{"c":"小于3个月","s":"定投客户","p":17.97,"f":1},{"c":"小于3个月","s":"定投客户","p":19.01,"f":1},{"c":"小于3个月","s":"定投客户","p":20.04,"f":1},{"c":"小于3个月","s":"定投客户","p":21.08,"f":1},{"c":"小于3个月","s":"定投客户","p":22.12,"f":1},{"c":"小于3个月","s":"定投客户","p":23.15,"f":0},{"c":"小于3个月","s":"定投客户","p":24.19,"f":0},{"c":"小于3个月","s":"定投客户","p":25.23,"f":0},{"c":"小于3个月","s":"定投客户","p":26.26,"f":0},{"c":"小于3个月","s":"定投客户","p":27.3,"f":0},{"c":"小于3个月","s":"定投客户","p":28.34,"f":0},{"c":"小于3个月","s":"定投客户","p":29.37,"f":0},{"c":"小于3个月","s":"定投客户","p":30.41,"f":0},{"c":"小于3个月","s":"定投客户","p":31.45,"f":0},{"c":"小于3个月","s":"定投客户","p":32.48,"f":0},{"c":"小于3个月","s":"定投客户","p":33.52,"f":0},{"c":"小于3个月","s":"定投客户","p":34.56,"f":0},{"c":"小于3个月","s":"定投客户","p":35.59,"f":0},{"c":"小于3个月","s":"定投客户","p":36.63,"f":0},{"c":"小于3个月","s":"定投客户","p":37.67,"f":0},{"c":"小于3个月","s":"定投客户","p":38.7,"f":0},{"c":"小于3个月","s":"定投客户","p":39.74,"f":0},{"c":"小于3个月","s":"定投客户","p":40.78,"f":0},{"c":"小于3个月","s":"定投客户","p":41.81,"f":0},{"c":"小于3个月","s":"定投客户","p":42.85,"f":0},{"c":"小于3个月","s":"定投客户","p":43.89,"f":0},{"c":"小于3个月","s":"定投客户","p":44.92,"f":0},{"c":"小于3个月","s":"定投客户","p":45.96,"f":0},{"c":"小于3个月","s":"定投客户","p":47,"f":0},{"c":"小于3个月","s":"定投客户","p":48.03,"f":0},{"c":"小于3个月","s":"定投客户","p":49.07,"f":0},{"c":"小于3个月","s":"定投客户","p":50.11,"f":0},{"c":"小于3个月","s":"定投客户","p":51.14,"f":0},{"c":"小于3个月","s":"定投客户","p":52.18,"f":0},{"c":"小于3个月","s":"定投客户","p":53.22,"f":0},{"c":"小于3个月","s":"定投客户","p":54.25,"f":0},{"c":"小于3个月","s":"定投客户","p":55.29,"f":0},{"c":"小于3个月","s":"定投客户","p":56.33,"f":0},{"c":"小于3个月","s":"定投客户","p":57.36,"f":0},{"c":"小于3个月","s":"定投客户","p":58.4,"f":0}
],
"pcts":[{"c":"120个月以上","s":"非定投客户","t":"1.89%"},{"c":"120个月以上","s":"定投客户","t":"1.24%"},{"c":"60-120个月","s":"非定投客户","t":"6.42%"},{"c":"60-120个月","s":"定投客户","t":"4.34%"},{"c":"36-60个月","s":"非定投客户","t":"3.06%"},{"c":"36-60个月","s":"定投客户","t":"6.15%"},{"c":"12-36个月","s":"非定投客户","t":"9.51%"},{"c":"12-36个月","s":"定投客户","t":"27.47%"},{"c":"6-12个月","s":"非定投客户","t":"10.74%"},{"c":"6-12个月","s":"定投客户","t":"19.88%"},{"c":"3-6个月","s":"非定投客户","t":"14.63%"},{"c":"3-6个月","s":"定投客户","t":"18.71%"},{"c":"小于3个月","s":"非定投客户","t":"53.75%"},{"c":"小于3个月","s":"定投客户","t":"22.20%"}],
"axisline":[{"p":-0.68,"d":17},{"p":-0.68,"d":468},{"p":-0.62,"d":475},{"p":-0.43,"d":481.5},{"p":-0.14,"d":487.1},{"p":0.24,"d":491.4},{"p":0.68,"d":494.1},{"p":1.15,"d":495},{"p":63.42,"d":495}],
"tickmarks":[{"p":10,"d":488,"e":495},{"p":20,"d":488,"e":495},{"p":30,"d":488,"e":495},{"p":40,"d":488,"e":495},{"p":50,"d":488,"e":495},{"p":60,"d":488,"e":495}],
"arrow":[{"p":63.62,"d":495}]},
"layer":[
{"data":{"name":"axisline"},"mark":{"type":"line","color":"#808080","strokeWidth":1.5,"clip":false},"encoding":{"x":{"field":"p","type":"quantitative","scale":{"domain":[-0.713,66.27],"nice":false,"zero":false},"axis":{"title":null,"values":[0,10,20,30,40,50,60],"domain":false,"grid":false,"ticks":false,"labelFontSize":18,"labelColor":"#8c8c8c","labelFont":"Noto Sans CJK SC","labelPadding":12,"labelExpr":"datum.value+'%'","labelOffset":{"expr":"datum.value==0?7.5:datum.value>=50?5:3"}}},"y":{"field":"d","type":"quantitative","scale":{"domain":[0,495],"reverse":true,"nice":false},"axis":null},"order":{"field":"d"}}},
{"data":{"name":"tickmarks"},"mark":{"type":"rule","color":"#808080","strokeWidth":1.2},"encoding":{"x":{"field":"p","type":"quantitative"},"y":{"field":"d","type":"quantitative","scale":{"domain":[0,495],"reverse":true,"nice":false},"axis":null},"y2":{"field":"e"}}},
{"data":{"name":"arrow"},"mark":{"type":"point","shape":"triangle-right","filled":true,"color":"#808080","size":110,"opacity":1},"encoding":{"x":{"field":"p","type":"quantitative"},"y":{"field":"d","type":"quantitative","scale":{"domain":[0,495],"reverse":true,"nice":false},"axis":null}}},
{"data":{"name":"icons"},"mark":{"type":"point","filled":true,"opacity":1,"size":484,"shape":"M0 -1A.21 .21 0 1 1 0 -.58A.21 .21 0 1 1 0 -1ZM-.28 -.5L.28 -.5Q.38 -.5 .43 -.42L.66 .02L.5 .1L.33 -.2L.33 1L.05 1L.05 .2L-.05 .2L-.05 1L-.33 1L-.33 -.2L-.5 .1L-.66 .02L-.43 -.42Q-.38 -.5 -.28 -.5Z"},
"encoding":{"x":{"field":"p","type":"quantitative"},
"y":{"field":"c","type":"nominal","scale":{"type":"band","domain":["120个月以上","60-120个月","36-60个月","12-36个月","6-12个月","3-6个月","小于3个月"],"paddingInner":0,"paddingOuter":0.176,"align":0.287},"axis":{"title":null,"domain":false,"ticks":false,"grid":false,"labelFontSize":19,"labelColor":"#808080","labelFont":"Noto Sans CJK SC","labelPadding":20,"labelOffset":{"expr":"datum.value=='120个月以上'?2:datum.value=='60-120个月'?1:datum.value=='36-60个月'?-2:datum.value=='12-36个月'?-2:datum.value=='6-12个月'?2:datum.value=='3-6个月'?1:3.5"}}},
"yOffset":{"field":"s","type":"nominal","scale":{"domain":["非定投客户","定投客户"],"paddingOuter":0.847}},
"color":{"condition":{"test":"datum.f==0","value":"#DEDEDE"},"field":"s","type":"nominal","scale":{"domain":["非定投客户","定投客户"],"range":["#7FCCE0","#1F2F5F"]},"legend":{"title":null,"orient":"none","legendX":173,"legendY":547,"direction":"horizontal","columns":2,"columnPadding":242,"symbolType":"M0 -1A.21 .21 0 1 1 0 -.58A.21 .21 0 1 1 0 -1ZM-.28 -.5L.28 -.5Q.38 -.5 .43 -.42L.66 .02L.5 .1L.33 -.2L.33 1L.05 1L.05 .2L-.05 .2L-.05 1L-.33 1L-.33 -.2L-.5 .1L-.66 .02L-.43 -.42Q-.38 -.5 -.28 -.5Z","symbolSize":1024,"symbolOpacity":1,"symbolStrokeWidth":0,"labelFontSize":21,"labelColor":"#808080","labelFont":"Noto Sans CJK SC","labelOffset":12,"labelLimit":200}}}},
{"data":{"name":"pcts"},"mark":{"type":"text","align":"right","baseline":"middle","fontSize":24,"font":"Noto Sans CJK SC","dy":2.5},
"encoding":{"x":{"datum":65.86,"type":"quantitative"},
"y":{"field":"c","type":"nominal","scale":{"type":"band","domain":["120个月以上","60-120个月","36-60个月","12-36个月","6-12个月","3-6个月","小于3个月"],"paddingInner":0,"paddingOuter":0.176,"align":0.287},"axis":null},
"yOffset":{"field":"s","type":"nominal","scale":{"domain":["非定投客户","定投客户"],"paddingOuter":0.847}},
"color":{"field":"s","type":"nominal","legend":null},"text":{"field":"t","type":"nominal"}}}
],"resolve":{"scale":{"y":"independent","yOffset":"independent"}}}
